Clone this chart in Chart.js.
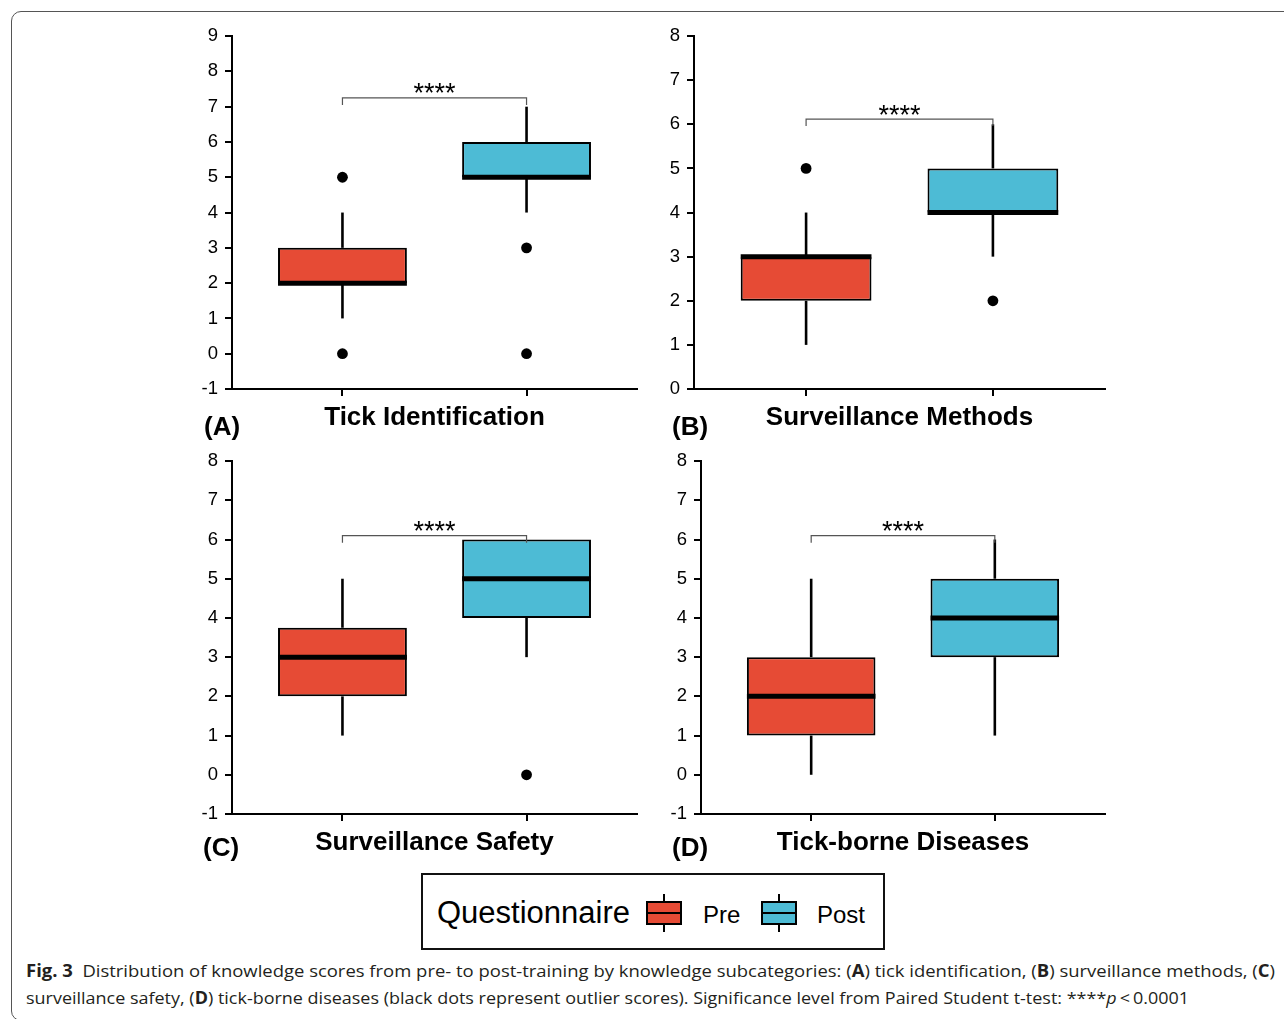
<!DOCTYPE html>
<html>
<head>
<meta charset="utf-8">
<script src="https://cdn.jsdelivr.net/npm/chart.js@4.4.1/dist/chart.umd.min.js"></script>
<style>
  html, body { margin:0; padding:0; background:#fff; }
  body { width:1284px; height:1019px; position:relative; overflow:hidden; font-family:"Liberation Sans", Arial, sans-serif; }
  #frame { position:absolute; left:11px; top:11px; width:1300px; height:1010px; border:1.5px solid #555; border-radius:10px; box-sizing:border-box; }
  canvas.panel { position:absolute; }
  .tag { position:absolute; font:bold 26px "Liberation Sans", Arial, sans-serif; line-height:26px; color:#000; white-space:nowrap; }
  #legend { position:absolute; left:421px; top:873px; width:464px; height:77px; border:2px solid #111; box-sizing:border-box; }
  .ltext { position:absolute; line-height:1; color:#000; white-space:nowrap; font-family:"Liberation Sans", Arial, sans-serif; }
  .key { position:absolute; width:36px; height:24px; }
  .key .whisk { position:absolute; left:17px; top:-7px; width:2px; height:38px; background:#000; }
  .key .box { position:absolute; left:0; top:0; width:36px; height:24px; border:2px solid #000; box-sizing:border-box; }
  .key .med { position:absolute; left:0; top:11px; width:36px; height:2px; background:#000; }
  .cap { position:absolute; left:26px; font-family:"Open Sans", "Noto Sans", sans-serif; font-size:17px; line-height:27px; color:#231f20; white-space:nowrap; transform-origin:0 0; }
  .cap b { font-weight:700; }
</style>
</head>
<body>
<div id="frame"></div>
<div id="charts"></div>

<div id="legend"></div>

<div class="cap" id="cap1" data-w="1249" style="top:957px;"><b>Fig. 3</b>&nbsp; Distribution of knowledge scores from pre- to post-training by knowledge subcategories: (<b>A</b>) tick identification, (<b>B</b>) surveillance methods, (<b>C</b>)</div>
<div class="cap" id="cap2" data-w="1163" style="top:984px;">surveillance safety, (<b>D</b>) tick-borne diseases (black dots represent outlier scores). Significance level from Paired Student t-test: ****<i>p</i>&thinsp;&lt;&thinsp;0.0001</div>

<script>
// ---------------- DATA ----------------
const panelTitles = ['Tick Identification', 'Surveillance Methods', 'Surveillance Safety', 'Tick-borne Diseases'];
const panelTags = ['(A)', '(B)', '(C)', '(D)'];
const groups = ['Pre', 'Post'];
const groupX = [1, 2];
// per panel: [Pre, Post]
const q1Values = [[2, 5], [2, 4], [2, 4], [1, 3]];
const medianValues = [[2, 5], [3, 4], [3, 5], [2, 4]];
const q3Values = [[3, 6], [3, 5], [3.75, 6], [3, 5]];
const whiskerLow = [[1, 4], [1, 3], [1, 3], [0, 1]];
const whiskerHigh = [[4, 7], [4, 6], [5, 6], [5, 6]];
const outlierValues = [[[5, 0], [3, 0]], [[5], [2]], [[], [0]], [[], []]];
const yMinValues = [-1, 0, -1, -1];
const yMaxValues = [9, 8, 8, 8];
const bracketTop = [7.25, 6.12, 6.1, 6.1];
const bracketDrop = [7.05, 5.96, 5.92, 5.92];
const sigLabel = '****';
const legendTitle = 'Questionnaire';

// ---------------- STYLE / LAYOUT ----------------
const groupColors = ['#E64B35', '#4DBBD5'];
const boxWidth = 0.7;
const xRange = [0.4, 2.6];
const FONT = '"Liberation Sans", Arial, sans-serif';
// plot-area rectangles on the page (layout only)
const panelRects = [
  {l: 232, t: 34, r: 637, b: 389},
  {l: 694, t: 34, r: 1105, b: 389},
  {l: 232, t: 459, r: 637, b: 814},
  {l: 701, t: 459, r: 1105, b: 814}
];
const tagPos = [ {x: 204, y: 413}, {x: 672, y: 413}, {x: 203, y: 834}, {x: 672, y: 834} ];
const Y_W = 82, X_H = 52, PAD_T = 16, PAD_R = 12;

Chart.defaults.font.family = FONT;
Chart.defaults.color = '#000';

function buildPanel(p) {
  const rect = panelRects[p];
  const canvas = document.createElement('canvas');
  canvas.className = 'panel';
  const left = rect.l - Y_W, top = rect.t - PAD_T;
  const w = rect.r - left + PAD_R, h = rect.b - top + X_H;
  canvas.width = w; canvas.height = h;
  canvas.style.left = left + 'px'; canvas.style.top = top + 'px';
  canvas.style.width = w + 'px'; canvas.style.height = h + 'px';
  document.getElementById('charts').appendChild(canvas);

  const datasets = [];
  // boxes (floating bars)
  datasets.push({
    type: 'bar',
    data: groupX.map((gx, g) => ({x: gx, y: [q1Values[p][g], q3Values[p][g]]})),
    backgroundColor: groupColors,
    borderColor: '#000',
    borderWidth: 2,
    borderSkipped: false,
    barPercentage: boxWidth,
    categoryPercentage: 1,
    order: 2
  });
  groupX.forEach((gx, g) => {
    const lineBase = {type: 'line', borderColor: '#000', pointRadius: 0, fill: false, tension: 0, borderCapStyle: 'butt'};
    datasets.push(Object.assign({}, lineBase, {
      data: [{x: gx, y: whiskerLow[p][g]}, {x: gx, y: q1Values[p][g]}], borderWidth: 2.6, order: 3
    }));
    datasets.push(Object.assign({}, lineBase, {
      data: [{x: gx, y: q3Values[p][g]}, {x: gx, y: whiskerHigh[p][g]}], borderWidth: 2.6, order: 3
    }));
    datasets.push(Object.assign({}, lineBase, {
      data: [{x: gx - boxWidth / 2, y: medianValues[p][g]}, {x: gx + boxWidth / 2, y: medianValues[p][g]}], borderWidth: 5, order: 1
    }));
    datasets.push({
      type: 'line', showLine: false,
      data: outlierValues[p][g].map(v => ({x: gx, y: v})),
      pointRadius: 5.4, pointBackgroundColor: '#000', pointBorderWidth: 0, order: 0
    });
  });
  // significance bracket
  datasets.push({
    type: 'line', borderColor: '#555', borderWidth: 1.2, pointRadius: 0, fill: false, tension: 0,
    data: [
      {x: groupX[0], y: bracketDrop[p]}, {x: groupX[0], y: bracketTop[p]},
      {x: groupX[1], y: bracketTop[p]}, {x: groupX[1], y: bracketDrop[p]}
    ],
    order: 0
  });

  const sigPlugin = {
    id: 'sig' + p,
    afterDatasetsDraw(chart) {
      const {ctx, scales: {x, y}} = chart;
      ctx.save();
      ctx.font = '27px ' + FONT;
      ctx.fillStyle = '#000';
      ctx.textAlign = 'center';
      ctx.textBaseline = 'alphabetic';
      const cx = x.getPixelForValue((groupX[0] + groupX[1]) / 2);
      const cy = y.getPixelForValue(bracketTop[p]) + 4.5;
      ctx.fillText(sigLabel, cx, cy);
      ctx.restore();
    }
  };

  new Chart(canvas, {
    type: 'bar',
    data: {datasets},
    options: {
      responsive: false,
      animation: false,
      devicePixelRatio: 1,
      layout: {autoPadding: false, padding: {top: PAD_T, right: PAD_R, left: 0, bottom: 0}},
      plugins: {legend: {display: false}, tooltip: {enabled: false}, title: {display: false}},
      scales: {
        x: {
          type: 'linear', min: xRange[0], max: xRange[1], offset: false,
          afterBuildTicks: s => { s.ticks = groupX.map(v => ({value: v})); },
          afterFit: s => { s.height = X_H; },
          ticks: {display: false},
          grid: {offset: false, drawOnChartArea: false, drawTicks: true, tickLength: 7, color: '#000', lineWidth: 2},
          border: {display: true, color: '#000', width: 2},
          title: {display: true, text: panelTitles[p], color: '#000',
                  font: {family: FONT, size: 26, weight: 'bold', lineHeight: 1.2}, padding: {top: 0, bottom: 8}}
        },
        y: {
          min: yMinValues[p], max: yMaxValues[p],
          afterFit: s => { s.width = Y_W; },
          ticks: {stepSize: 1, color: '#000', font: {family: FONT, size: 18.5}, padding: 7},
          grid: {drawOnChartArea: false, drawTicks: true, tickLength: 7, color: '#000', lineWidth: 2},
          border: {display: true, color: '#000', width: 2}
        }
      }
    },
    plugins: [sigPlugin]
  });

  const tag = document.createElement('div');
  tag.className = 'tag';
  tag.textContent = panelTags[p];
  tag.style.left = tagPos[p].x + 'px';
  tag.style.top = tagPos[p].y + 'px';
  document.body.appendChild(tag);
}

for (let p = 0; p < panelTitles.length; p++) buildPanel(p);

// ---------------- LEGEND (HTML) ----------------
(function buildLegend() {
  const lg = document.getElementById('legend');
  const base = {x: 421, y: 873};
  const t = document.createElement('div');
  t.className = 'ltext';
  t.textContent = legendTitle;
  t.style.fontSize = '31px';
  t.style.left = (437 - base.x - 2) + 'px';
  t.style.top = (923 - 26.2 - base.y - 2) + 'px';
  lg.appendChild(t);
  const keyX = [646, 761], textX = [703, 817];
  groups.forEach((g, i) => {
    const k = document.createElement('div');
    k.className = 'key';
    k.style.left = (keyX[i] - base.x - 2) + 'px';
    k.style.top = (901 - base.y - 2) + 'px';
    k.innerHTML = '<div class="whisk"></div><div class="box" style="background:' + groupColors[i] + '"></div><div class="med"></div>';
    lg.appendChild(k);
    const lt = document.createElement('div');
    lt.className = 'ltext';
    lt.textContent = g;
    lt.style.fontSize = '24px';
    lt.style.left = (textX[i] - base.x - 2) + 'px';
    lt.style.top = (923 - 20.3 - base.y - 2) + 'px';
    lg.appendChild(lt);
  });
})();

// ---------------- CAPTION FIT ----------------
function fitCaption() {
  document.querySelectorAll('.cap').forEach(el => {
    el.style.transform = 'none';
    const w = el.getBoundingClientRect().width;
    const target = +el.dataset.w;
    if (w > 0) el.style.transform = 'scaleX(' + (target / w) + ')';
  });
}
fitCaption();
if (document.fonts && document.fonts.ready) document.fonts.ready.then(fitCaption);
</script>
</body>
</html>
